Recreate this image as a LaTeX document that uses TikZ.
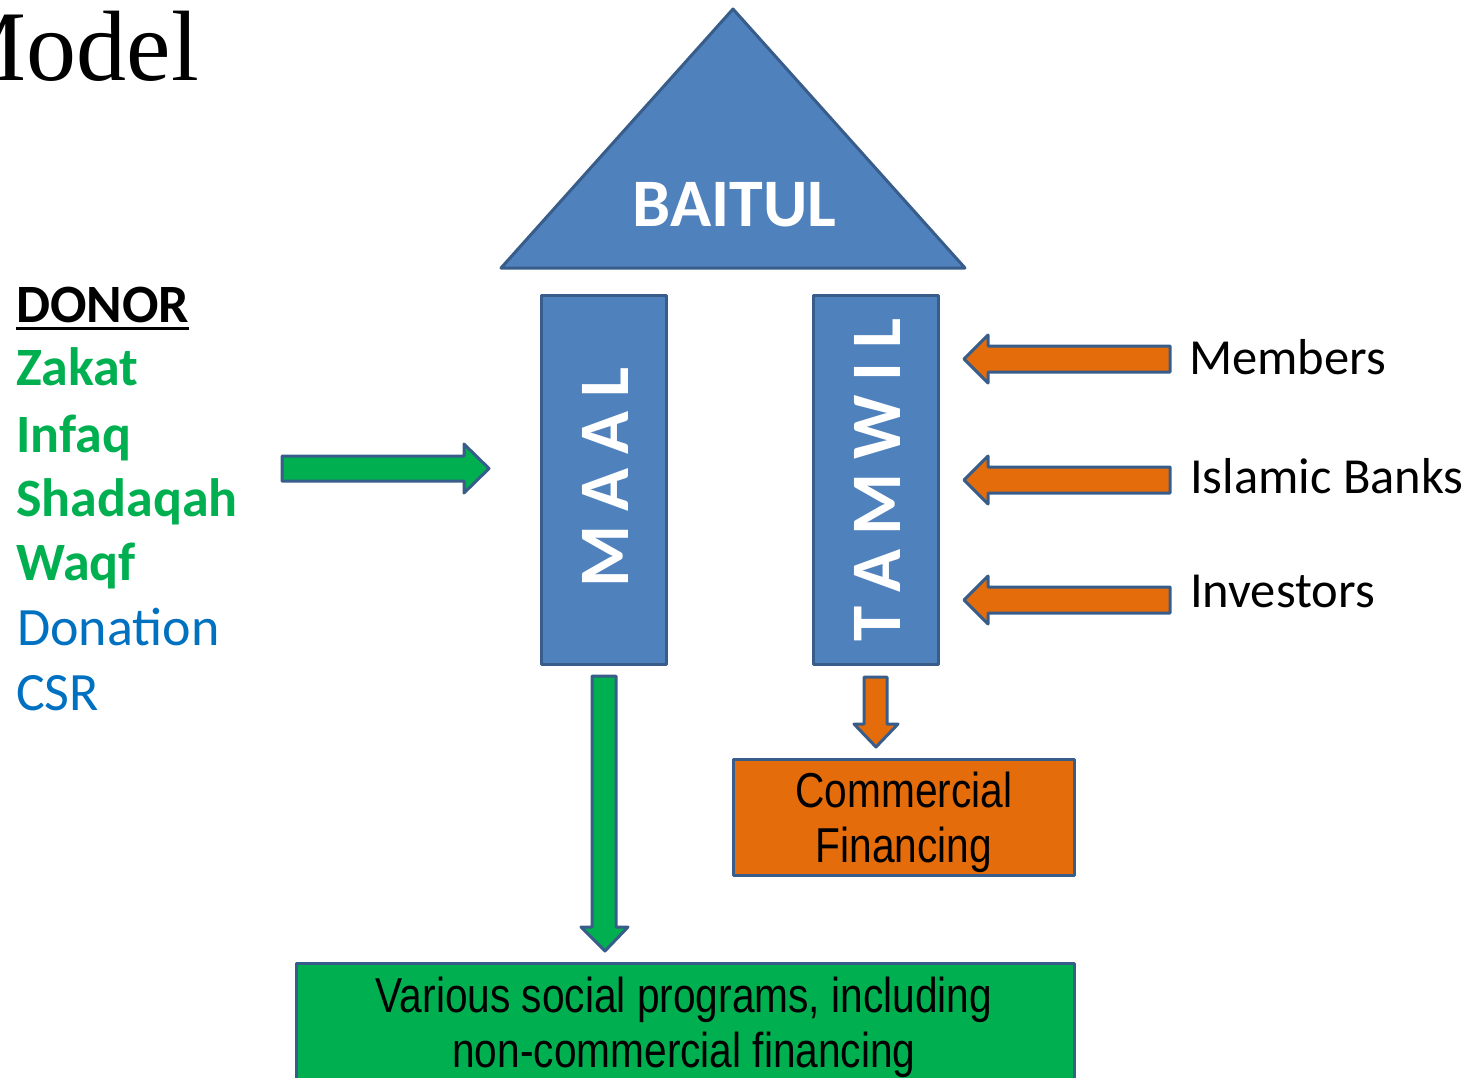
\documentclass[tikz,border=0pt]{standalone}
\usepackage{fontspec}
\setmainfont{Carlito}
\newfontfamily\timesf{Liberation Serif}
\newfontfamily\narrowf[FakeStretch=0.83]{Liberation Sans}
\definecolor{boxblue}{HTML}{4F81BD}
\definecolor{edgeblue}{HTML}{385D8A}
\definecolor{orng}{HTML}{E46C0A}
\definecolor{grn}{HTML}{00B050}
\definecolor{txtblue}{HTML}{0070C0}
\begin{document}
\begin{tikzpicture}[x=1pt,y=-1pt,
  blueedge/.style={draw=edgeblue,line width=3pt,line join=round},
  pillar/.style={blueedge,fill=boxblue,minimum width=125pt,minimum height=369pt,inner sep=0pt},
  pillartext/.style={text=white,font=\bfseries\fontsize{71}{71}\selectfont,rotate=90,inner sep=0pt},
  rlbl/.style={anchor=base west,inner sep=0pt,font=\fontsize{50.5}{60}\selectfont},
  glbl/.style={anchor=base west,inner sep=0pt,font=\bfseries\fontsize{54}{60}\selectfont,text=grn},
  blbl/.style={anchor=base west,inner sep=0pt,font=\fontsize{54}{60}\selectfont,text=txtblue},
  boxtext/.style={inner sep=0pt,align=center,font=\narrowf\fontsize{49}{55}\selectfont},
  garrow/.style={blueedge,fill=grn},
  oarrow/.style={blueedge,fill=orng}]
\useasboundingbox (0,0) rectangle (1467,1077);

% title
\node[anchor=base east,inner sep=0pt,font=\timesf\fontsize{100}{100}\selectfont] (title) at (199,80) {Model};

% roof
\draw[blueedge,fill=boxblue] (733,9) -- (965,268) -- (501,268) -- cycle;
\node[text=white,font=\bfseries\fontsize{68}{68}\selectfont,inner sep=0pt] (baitul) at (734.5,205) {BAITUL};

% pillars
\node[pillar] (maal) at (603.5,479.5) {};
\node[pillartext] (maaltxt) at (605,477) {M\hspace{14pt}A\hspace{14pt}A\hspace{14pt}L};
\node[pillar] (tamwil) at (876,479.5) {};
\node[pillartext] (tamwiltxt) at (877.5,480) {T\hspace{14pt}A\hspace{14pt}M\hspace{14pt}W\hspace{14pt}I\hspace{14pt}L};

% donor list
\node[anchor=base west,inner sep=0pt,font=\bfseries\fontsize{54}{60}\selectfont] (donor) at (16,322) {DONOR};
\draw[line width=3pt] ([yshift=-6pt]donor.base west) -- ([yshift=-6pt]donor.base east);
\node[glbl] (zakat) at (16,385) {Zakat};
\node[glbl] (infaq) at (16,452) {Infaq};
\node[glbl] (shadaqah) at (16,516) {Shadaqah};
\node[glbl] (waqf) at (16,580) {Waqf};
\node[blbl] (donation) at (17,645) {Donation};
\node[blbl] (csr) at (16,710) {CSR};

% green arrow into MAAL
\draw[garrow] (282,456) -- (464,456) -- (464,444) -- (489,468.5) -- (464,493) -- (464,481) -- (282,481) -- cycle;

% orange arrows into TAMWIL
\draw[oarrow] (1170,346) -- (988,346) -- (988,335) -- (964,359) -- (988,383) -- (988,372) -- (1170,372) -- cycle;
\draw[oarrow] (1170,467) -- (988,467) -- (988,456) -- (964,480) -- (988,504) -- (988,493) -- (1170,493) -- cycle;
\draw[oarrow] (1170,587) -- (988,587) -- (988,576) -- (964,600) -- (988,624) -- (988,613) -- (1170,613) -- cycle;
\node[rlbl] (members) at (1189,374) {Members};
\node[rlbl] (banks) at (1190,493) {Islamic Banks};
\node[rlbl] (investors) at (1190,607) {Investors};

% down arrows
\draw[garrow] (592,676) -- (616,676) -- (616,927) -- (628,927) -- (605,951) -- (581,927) -- (592,927) -- cycle;
\draw[oarrow] (864,677) -- (887,677) -- (887,724) -- (898,724) -- (876,747) -- (854,724) -- (864,724) -- cycle;

% result boxes
\draw[blueedge,fill=orng] (733,759) rectangle (1074,875);
\node[boxtext] (commercial) at (904,822) {Commercial\\Financing};
\draw[blueedge,fill=grn] (296,963) rectangle (1074,1110);
\node[boxtext] (social) at (684,1027) {Various social programs, including\\non-commercial financing};
\end{tikzpicture}
\end{document}
